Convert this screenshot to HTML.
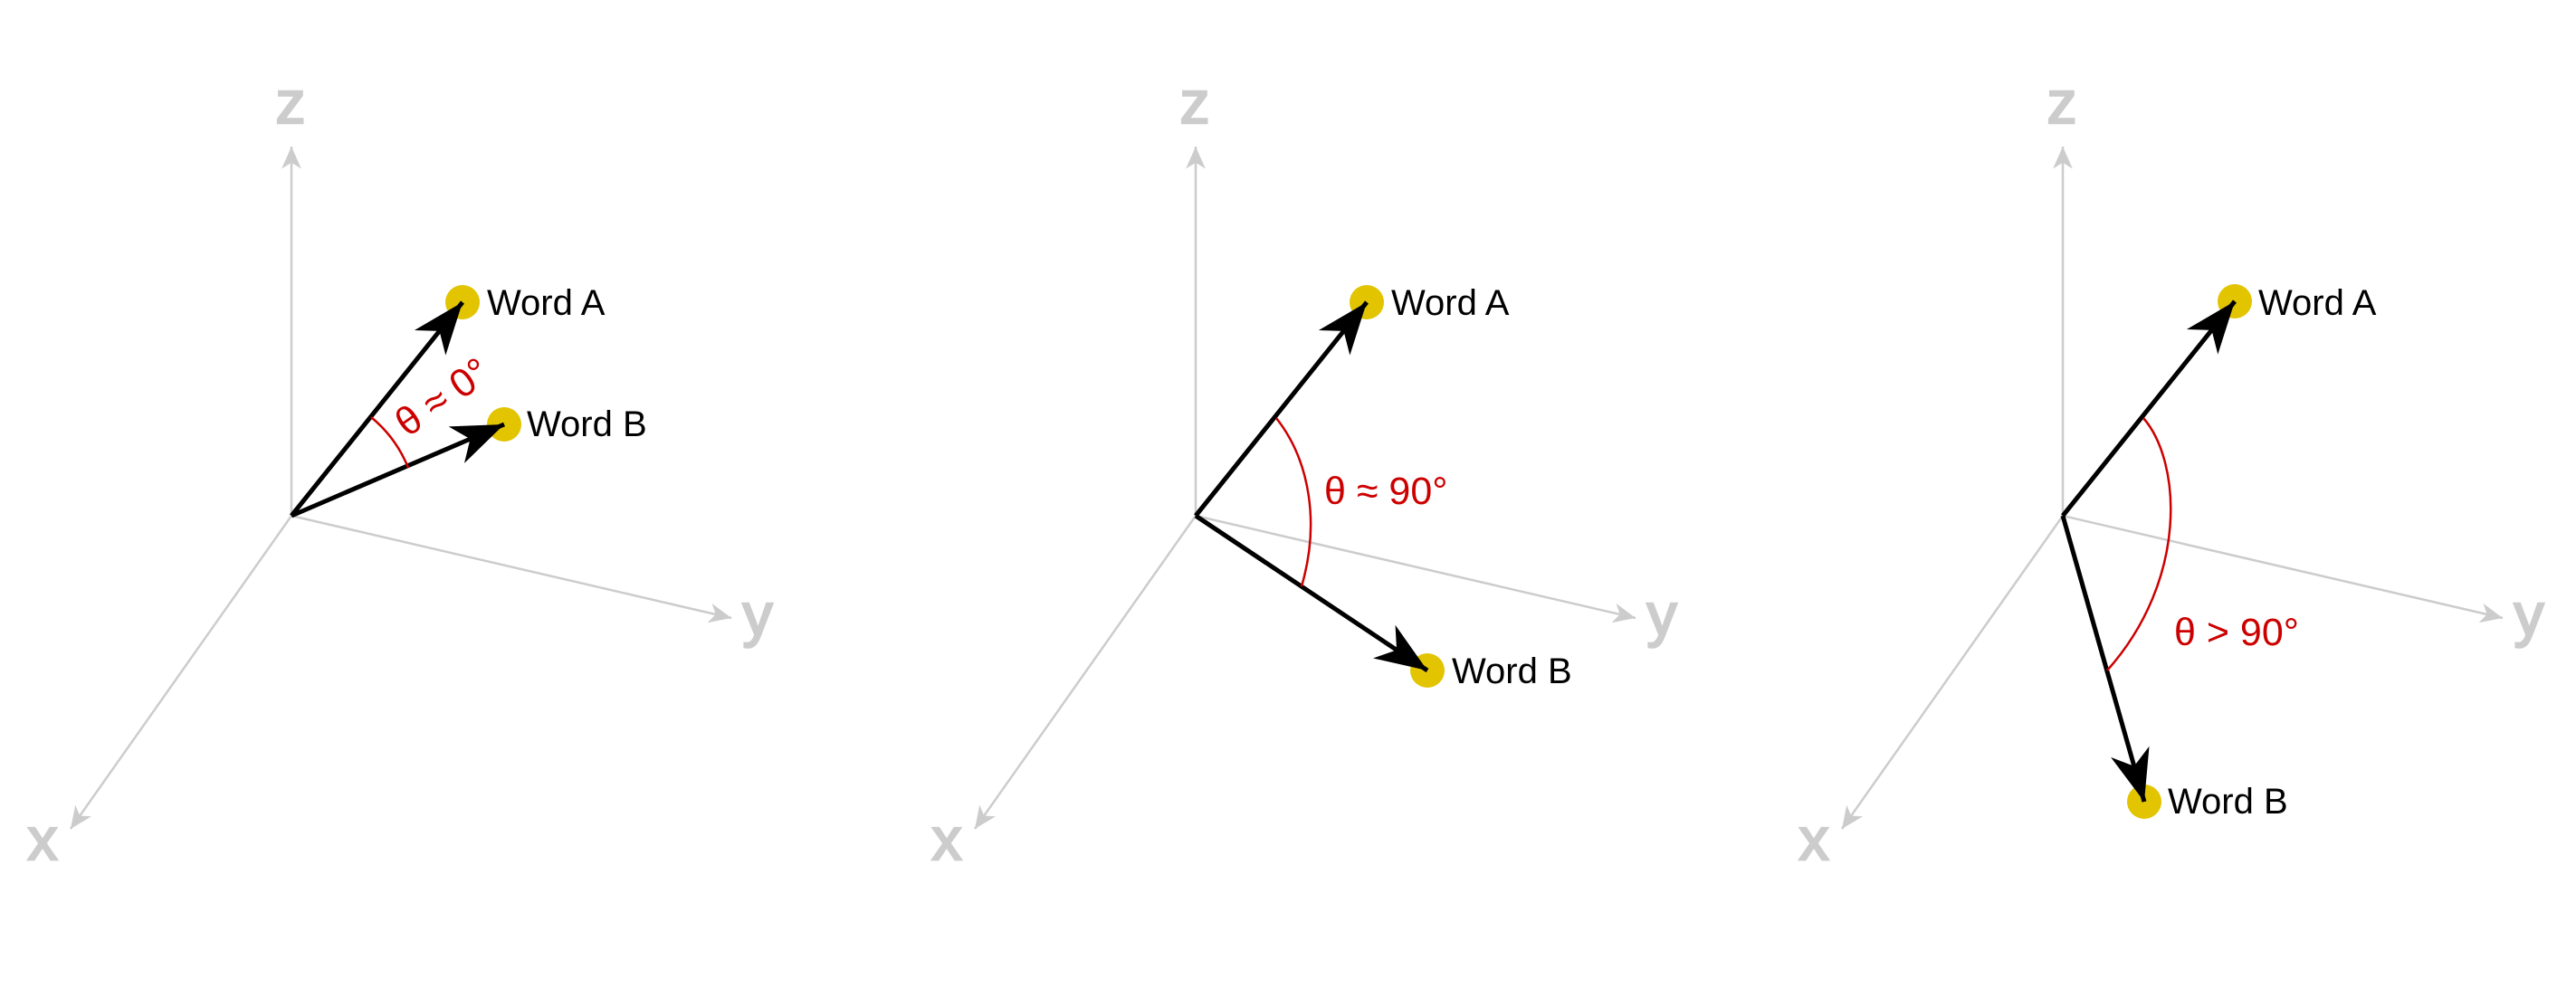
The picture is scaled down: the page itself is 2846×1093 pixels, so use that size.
<!DOCTYPE html>
<html><head><meta charset="utf-8"><style>
html,body{margin:0;padding:0;background:#fff;}
svg{display:block;}
text{font-family:"Liberation Sans",sans-serif;}
</style></head><body>
<svg width="2846" height="1093" viewBox="0 0 2846 1093" xmlns="http://www.w3.org/2000/svg">
<defs>
<marker id="ga" markerUnits="userSpaceOnUse" markerWidth="30" markerHeight="30" refX="0" refY="0" viewBox="-20 -10 22 20" orient="auto">
<path d="M0,0 L-18,-8 L-13,0 L-18,8 Z" fill="#cccccc"/>
</marker>
<marker id="ba" markerUnits="userSpaceOnUse" markerWidth="64" markerHeight="64" refX="0" refY="0" viewBox="-54 -27 58 54" orient="auto">
<path d="M0,0 L-52,-20 L-37,0 L-52,20 Z" fill="#000"/>
</marker>
</defs>

<!-- Panel 1 -->
<g stroke="#cccccc" stroke-width="2.5" fill="none">
<line x1="322" y1="570" x2="322" y2="162" marker-end="url(#ga)"/>
<line x1="322" y1="570" x2="808" y2="683" marker-end="url(#ga)"/>
<line x1="322" y1="570" x2="78" y2="916" marker-end="url(#ga)"/>
</g>
<g fill="#cccccc" stroke="#cccccc" stroke-width="2.5" font-size="66" text-anchor="middle">
<text x="321" y="136">z</text>
<text x="837" y="702">y</text>
<text x="47" y="950">x</text>
</g>
<circle cx="511" cy="334" r="19" fill="#e2c400"/>
<circle cx="557" cy="469" r="19" fill="#e2c400"/>
<line x1="322" y1="570" x2="511" y2="334" stroke="#000" stroke-width="5" marker-end="url(#ba)"/>
<line x1="322" y1="570" x2="557" y2="469" stroke="#000" stroke-width="5" marker-end="url(#ba)"/>
<path d="M410,461 A140,140 0 0 1 451,517" stroke="#cc0000" stroke-width="2.5" fill="none"/>
<text x="538" y="348" font-size="40" fill="#000">Word A</text>
<text x="582" y="482" font-size="40" fill="#000">Word B</text>
<text x="450" y="484" font-size="44" fill="#cc0000" transform="rotate(-35 450 484)">θ ≈ 0°</text>

<!-- Panel 2 -->
<g stroke="#cccccc" stroke-width="2.5" fill="none">
<line x1="1321" y1="570" x2="1321" y2="162" marker-end="url(#ga)"/>
<line x1="1321" y1="570" x2="1807" y2="683" marker-end="url(#ga)"/>
<line x1="1321" y1="570" x2="1077" y2="916" marker-end="url(#ga)"/>
</g>
<g fill="#cccccc" stroke="#cccccc" stroke-width="2.5" font-size="66" text-anchor="middle">
<text x="1320" y="136">z</text>
<text x="1836" y="702">y</text>
<text x="1046" y="950">x</text>
</g>
<circle cx="1510" cy="334" r="19" fill="#e2c400"/>
<circle cx="1577" cy="741" r="19" fill="#e2c400"/>
<line x1="1321" y1="570" x2="1510" y2="334" stroke="#000" stroke-width="5" marker-end="url(#ba)"/>
<line x1="1321" y1="570" x2="1577" y2="741" stroke="#000" stroke-width="5" marker-end="url(#ba)"/>
<path d="M1410,462 C1448,510 1458,580 1438,648" stroke="#cc0000" stroke-width="2.5" fill="none"/>
<text x="1537" y="348" font-size="40" fill="#000">Word A</text>
<text x="1604" y="755" font-size="40" fill="#000">Word B</text>
<text x="1463" y="557" font-size="43" fill="#cc0000">θ ≈ 90°</text>

<!-- Panel 3 -->
<g stroke="#cccccc" stroke-width="2.5" fill="none">
<line x1="2279" y1="570" x2="2279" y2="162" marker-end="url(#ga)"/>
<line x1="2279" y1="570" x2="2765" y2="683" marker-end="url(#ga)"/>
<line x1="2279" y1="570" x2="2035" y2="916" marker-end="url(#ga)"/>
</g>
<g fill="#cccccc" stroke="#cccccc" stroke-width="2.5" font-size="66" text-anchor="middle">
<text x="2278" y="136">z</text>
<text x="2794" y="702">y</text>
<text x="2004" y="950">x</text>
</g>
<circle cx="2469" cy="333" r="19" fill="#e2c400"/>
<circle cx="2369" cy="886" r="19" fill="#e2c400"/>
<line x1="2279" y1="570" x2="2469" y2="333" stroke="#000" stroke-width="5" marker-end="url(#ba)"/>
<line x1="2279" y1="570" x2="2369" y2="886" stroke="#000" stroke-width="5" marker-end="url(#ba)"/>
<path d="M2368,462 C2410,510 2418,640 2328,741" stroke="#cc0000" stroke-width="2.5" fill="none"/>
<text x="2495" y="348" font-size="40" fill="#000">Word A</text>
<text x="2395" y="899" font-size="40" fill="#000">Word B</text>
<text x="2402" y="713" font-size="43" fill="#cc0000">θ &gt; 90°</text>
</svg>
</body></html>
